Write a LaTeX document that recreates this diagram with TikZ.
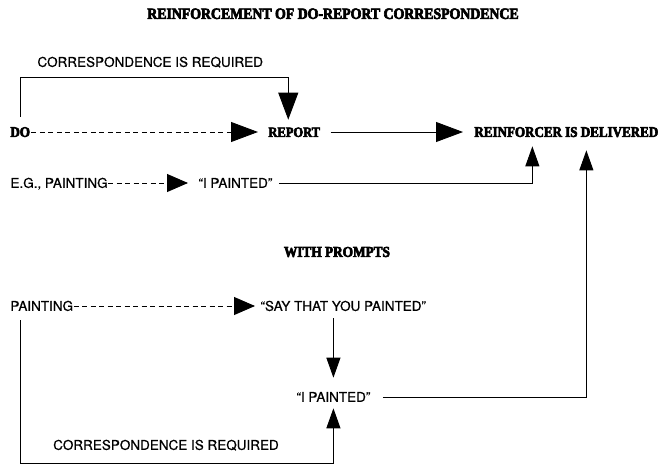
\documentclass[tikz,border=0pt]{standalone}
\usepackage{fontspec}
\usepackage{tikz}
\usetikzlibrary{arrows.meta}
\newfontfamily\helv{TeX Gyre Heros}[FakeBold=0.6]
\newfontfamily\heavyfam{Liberation Serif}[BoldFeatures={FakeBold=4,FakeStretch=0.88}]
\newcommand{\sanstxt}{\helv\fontsize{13.5}{16}\selectfont}
\newcommand{\heavytxt}[1]{\heavyfam\bfseries\fontsize{#1}{#1}\selectfont}

\begin{document}
\begin{tikzpicture}[x=1pt, y=-1pt, line width=0.9pt,
    sans/.style={font=\sanstxt, inner sep=0pt, text height=9.7pt, text depth=0pt, anchor=west},
    heavy/.style={font=\heavytxt{14.8}, inner sep=0pt, text height=9.8pt, text depth=0pt, anchor=west},
    dashline/.style={dash pattern=on 5pt off 3.5pt},
    bigtip/.style={-{Triangle[length=27pt,width=20pt]}},
    midtip/.style={-{Triangle[length=21pt,width=18pt]}},
    smalltip/.style={-{Triangle[length=20pt,width=14pt]}}]
\useasboundingbox (0,0) rectangle (658,466);

\node[heavy, anchor=center, font=\heavytxt{15.7}] (title) at (333,14)
  {REINFORCEMENT OF DO-REPORT CORRESPONDENCE};

% ---- without prompts
\node[sans] (corrA) at (37,62) {CORRESPONDENCE IS REQUIRED};
\node[heavy] (do) at (10,132) {DO};
\node[heavy, font=\heavytxt{14.2}] (report) at (268,132) {REPORT};
\node[heavy] (reinf) at (474,132) {REINFORCER IS DELIVERED};
\node[sans] (egpaint) at (10,183) {E.G., PAINTING};
\node[sans] (ipaintA) at (198,183) {“I PAINTED”};
\coordinate (inA) at ([xshift=-34pt]reinf.south);
\coordinate (inB) at ([xshift=20pt]reinf.south);

\draw[dashline, bigtip, shorten <=1pt, shorten >=10pt] (do) -- (report);
\draw[bigtip, shorten <=10pt, shorten >=11pt] (report) -- (reinf);
\draw[bigtip, shorten <=10pt, shorten >=7pt] (do.north) |- ([xshift=-6pt]report.north |- 0,77) -- ([xshift=-6pt]report.north);
\draw[dashline, midtip, shorten >=10pt] (egpaint) -- (ipaintA);
\draw[smalltip, shorten <=6pt, shorten >=9pt] (ipaintA.east) -| (inA);

% ---- with prompts
\node[heavy, anchor=center, font=\heavytxt{15.1}] (prompts) at (337,252) {WITH PROMPTS};
\node[sans] (paint) at (10,306) {PAINTING};
\node[sans] (say) at (260,306) {“SAY THAT YOU PAINTED”};
\node[sans] (ipaintB) at (296,397) {“I PAINTED”};
\node[sans, anchor=center] (corrB) at (166,445) {CORRESPONDENCE IS REQUIRED};

\draw[dashline, midtip, shorten >=5pt] (paint) -- (say);
\draw[smalltip, shorten <=7pt, shorten >=14pt] (say.south -| ipaintB.north) -- (ipaintB.north);
\draw[smalltip, shorten <=12pt, shorten >=13pt] (ipaintB.east) -| (inB);
\draw[smalltip, shorten <=9pt, shorten >=6pt] ([xshift=10pt]paint.south west) |- (ipaintB.south |- 0,463) -- (ipaintB.south);
\end{tikzpicture}
\end{document}
